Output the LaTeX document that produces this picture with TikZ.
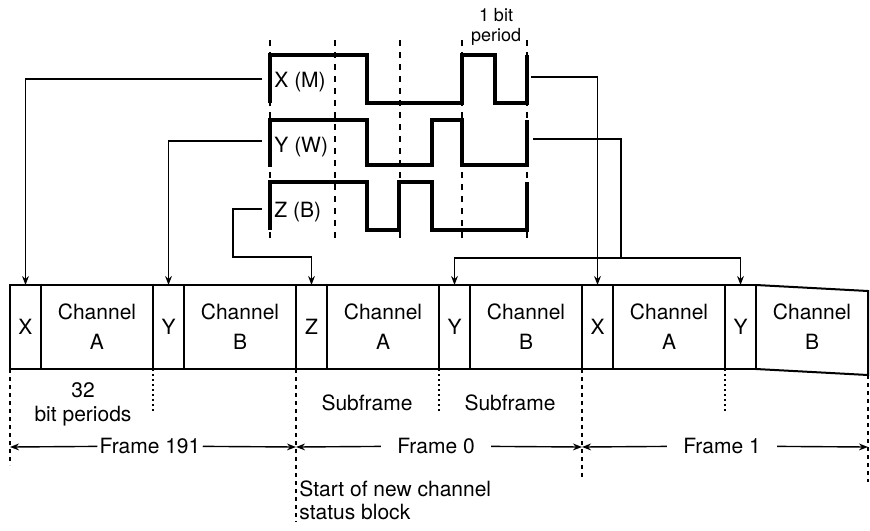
\documentclass[tikz,border=0pt]{standalone}
\usepackage{fontspec}
\setmainfont{TeX Gyre Heros}
\usetikzlibrary{arrows.meta,positioning,calc}

\begin{document}
\begin{tikzpicture}[x=0.5pt, y=-0.5pt, >={Stealth[length=4.5pt,width=3.4pt]},
  wave/.style={line width=1.6pt, line join=miter},
  bitline/.style={line width=0.8pt, dash pattern=on 3pt off 3pt},
  conn/.style={line width=0.7pt},
  sync/.style={rectangle, draw, line width=1pt, outer sep=0pt, inner sep=0pt, minimum width=15.5pt, minimum height=42pt, align=center, font=\fontsize{10.5}{15}\selectfont},
  data/.style={sync, minimum width=56pt},
  lbl/.style={font=\fontsize{10.5}{11.5}\selectfont, inner sep=1pt},
  framebd/.style={line width=0.8pt, dash pattern=on 2pt off 2pt},
  subbd/.style={line width=0.9pt, dash pattern=on 1pt off 1.5pt}]
\useasboundingbox (0,0) rectangle (870,530);

% bit period grid
\draw[bitline] (270,40) -- (270,240);
\draw[bitline] (335,40) -- (335,240);
\draw[bitline] (400,40) -- (400,240);
\draw[bitline] (462,40) -- (462,240);
\draw[bitline] (527,40) -- (527,240);
\node[lbl, font=\fontsize{9}{10}\selectfont, align=center] (bitp) at (496,27) {1 bit\\period};

% preambles
\draw[wave] (270,103) -- (270,55) -- (367,55) -- (367,103) -- (462,103) -- (462,55) -- (495,55) -- (495,103) -- (527,103) -- (527,55);
\draw[wave] (270,167) -- (270,120) -- (367,120) -- (367,165) -- (432,165) -- (432,120) -- (462,120) -- (462,165) -- (527,165) -- (527,120);
\draw[wave] (270,230) -- (270,182) -- (367,182) -- (367,230) -- (399,230) -- (399,182) -- (432,182) -- (432,230) -- (527,230) -- (527,182);
\node[lbl, anchor=west] (xm) at (272,82) {X (M)};
\node[lbl, anchor=west] (yw) at (272,147) {Y (W)};
\node[lbl, anchor=west] (zb) at (272,212) {Z (B)};
\coordinate (xin) at (262,79);
\coordinate (yin) at (262,141);
\coordinate (zin) at (262,209);
\coordinate (xout) at (531,77);
\coordinate (yout) at (533,139);
\coordinate (yjoin) at (621,258);

% subframes
\node[sync, anchor=west] (x1) at (10,327) {X};
\node[data, right=0pt of x1] (a1) {Channel\\A};
\node[sync, right=0pt of a1] (y1) {Y};
\node[data, right=0pt of y1] (b1) {Channel\\B};
\node[sync, right=0pt of b1] (z2) {Z};
\node[data, right=0pt of z2] (a2) {Channel\\A};
\node[sync, right=0pt of a2] (y2) {Y};
\node[data, right=0pt of y2] (b2) {Channel\\B};
\node[sync, right=0pt of b2] (x3) {X};
\node[data, right=0pt of x3] (a3) {Channel\\A};
\node[sync, right=0pt of a3] (y3) {Y};
\node[data, draw=none, right=0pt of y3] (b3) {Channel\\B};
\draw[line width=1pt] (b3.north west) -- ($(b3.north east)+(0,6)$) -- ($(b3.south east)+(0,6)$) -- (b3.south west);

% routing
\draw[conn,->] (xin) -| (x1.north);
\draw[conn,->] (yin) -| (y1.north);
\draw[conn,->] (zin) -| (233,257) -| (z2.north);
\draw[conn,->] (xout) -| (x3.north);
\draw[conn] (yout) -| (yjoin);
\draw[conn,->] (yjoin) -| (y2.north);
\draw[conn,->] (yjoin) -| (y3.north);

% boundaries
\draw[framebd] (x1.south west) -- (10,465);
\draw[subbd] (y1.south west) -- (153,412);
\draw[framebd] (z2.south west) -- (296,522);
\draw[subbd] (y2.south west) -- (439,412);
\draw[framebd] (x3.south west) -- (582,477);
\draw[subbd] (y3.south west) -- (725,412);
\draw[framebd] ($(b3.south east)+(0,6)$) -- (868,482);
\node[lbl, align=center, font=\fontsize{10.5}{12}\selectfont] (bp) at (83,404) {32\\bit periods};
\node[lbl] (sf1) at (367,403) {Subframe};
\node[lbl] (sf2) at (510,403) {Subframe};

% frames
\coordinate (f0) at (10,447);
\coordinate (f1) at (296,447);
\coordinate (f2) at (582,447);
\coordinate (f3) at (868,447);
\node[lbl] (fr191) at (150,446) {Frame 191};
\node[lbl, inner xsep=8pt] (fr0) at (436,446) {Frame 0};
\node[lbl, inner xsep=8pt] (fr1) at (722,446) {Frame 1};
\draw[conn,->] (fr191) -- (f0);
\draw[conn,->] (fr191) -- (f1);
\draw[conn,->] (fr0) -- (f1);
\draw[conn,->] (fr0) -- (f2);
\draw[conn,->] (fr1) -- (f2);
\draw[conn,->] (fr1) -- (f3);
\node[lbl, anchor=north west, align=left, font=\fontsize{10.5}{11.5}\selectfont] (newblk) at (297,478) {Start of new channel\\status block};
\end{tikzpicture}
\end{document}
